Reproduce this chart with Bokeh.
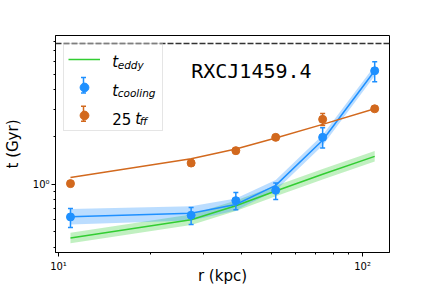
from bokeh.plotting import figure
from bokeh.models import (ColumnDataSource, Whisker, TeeHead, FixedTicker, Label,
                          Span, Legend, LegendItem)
from bokeh.embed import file_html
from bokeh.resources import INLINE

# ---- data ----
r = [10.95, 27.3, 38.3, 51.8, 73.9, 109.6]

t_cool = [0.621, 0.637, 0.788, 0.916, 1.984, 5.24]
t_cool_lo = [0.532, 0.556, 0.691, 0.800, 1.697, 4.467]
t_cool_hi = [0.702, 0.712, 0.886, 1.019, 2.285, 5.98]

t_cool_model = [0.623, 0.655, 0.745, 0.985, 1.90, 5.24]
t_cool_model_lo = [0.556, 0.590, 0.683, 0.912, 1.759, 4.874]
t_cool_model_hi = [0.698, 0.727, 0.812, 1.064, 2.052, 5.633]

t_ff = [1.01, 1.364, 1.634, 1.984, 2.58, 3.01]
t_ff_lo = [0.97, 1.31, 1.57, 1.91, 2.362, 2.90]
t_ff_hi = [1.05, 1.42, 1.70, 2.06, 2.815, 3.12]
t_ff_model = [1.103, 1.454, 1.673, 1.963, 2.398, 3.014]

t_eddy = [0.457, 0.596, 0.731, 0.907, 1.157, 1.504]
t_eddy_lo = [0.423, 0.552, 0.677, 0.840, 1.071, 1.393]
t_eddy_hi = [0.494, 0.644, 0.789, 0.980, 1.250, 1.624]

t_hubble = 7.8
title_text = "RXCJ1459.4"
x_major = [10, 100]
x_minor = [20, 30, 40, 50, 60, 70, 80, 90]
y_major = [1]
y_minor = [0.4, 0.5, 0.6, 0.7, 0.8, 0.9, 2, 3, 4, 5, 6, 7, 8]

BLUE = "#1e90ff"
ORANGE = "#d2691e"
GREEN = "#32cd32"

p = figure(width=416, height=288, x_axis_type="log", y_axis_type="log",
           x_range=(9.776, 122.6), y_range=(0.3697, 8.77),
           output_backend="svg", toolbar_location=None,
           min_border_left=54, min_border_right=27, min_border_top=35, min_border_bottom=36)
p.grid.visible = False
p.outline_line_color = "black"
p.outline_line_width = 1
p.background_fill_color = "white"

src = ColumnDataSource(dict(r=r, tc=t_cool, tcl=t_cool_lo, tch=t_cool_hi,
                            tcm=t_cool_model, tcml=t_cool_model_lo, tcmh=t_cool_model_hi,
                            tf=t_ff, tfl=t_ff_lo, tfh=t_ff_hi, tfm=t_ff_model,
                            te=t_eddy, tel=t_eddy_lo, teh=t_eddy_hi))

# bands
p.varea(x="r", y1="tel", y2="teh", source=src, fill_color=GREEN, fill_alpha=0.3)
p.varea(x="r", y1="tcml", y2="tcmh", source=src, fill_color=BLUE, fill_alpha=0.3)

# model lines
green_line = p.line(x="r", y="te", source=src, line_color=GREEN, line_width=1.5)
p.line(x="r", y="tcm", source=src, line_color=BLUE, line_width=1.5)
p.line(x="r", y="tfm", source=src, line_color=ORANGE, line_width=1.5)

# hubble-time dashed line
p.add_layout(Span(location=t_hubble, dimension="width", line_color="#333333",
                  line_width=1.5, line_dash="6 2"))

# error bars
for lo, hi, col in (("tcl", "tch", BLUE), ("tfl", "tfh", ORANGE)):
    w = Whisker(source=src, base="r", lower=lo, upper=hi, dimension="height",
                line_color=col, line_width=1.5, level="glyph",
                lower_head=TeeHead(size=5, line_color=col, line_width=1.5),
                upper_head=TeeHead(size=5, line_color=col, line_width=1.5))
    p.add_layout(w)

blue_pts = p.scatter(x="r", y="tc", source=src, size=8, color=BLUE)
orange_pts = p.scatter(x="r", y="tf", source=src, size=8, color=ORANGE)

# axes
p.xaxis.ticker = FixedTicker(ticks=x_major, minor_ticks=x_minor)
p.yaxis.ticker = FixedTicker(ticks=y_major, minor_ticks=y_minor)
p.xaxis.major_label_overrides = {10: "10\u00b9", 100: "10\u00b2"}
p.yaxis.major_label_overrides = {1: "10\u2070"}
for ax in (p.xaxis, p.yaxis):
    ax.major_tick_out = 4
    ax.major_tick_in = 0
    ax.minor_tick_out = 2
    ax.minor_tick_in = 0
    ax.axis_line_color = "black"
    ax.major_tick_line_color = "black"
    ax.minor_tick_line_color = "black"
    ax.major_label_text_font = "DejaVu Sans"
    ax.major_label_text_font_size = "10px"
    ax.major_label_text_color = "black"
    ax.axis_label_text_font = "DejaVu Sans"
    ax.axis_label_text_font_size = "15px"
    ax.axis_label_text_font_style = "normal"
    ax.axis_label_text_color = "black"
p.xaxis.axis_label = "r (kpc)"
p.yaxis.axis_label = "t (Gyr)"
p.xaxis.major_label_standoff = 4
p.xaxis.axis_label_standoff = -8
p.yaxis.major_label_standoff = 2
p.yaxis.axis_label_standoff = 8

# legend (glyphs + frame); rich labels are added as Labels on top
legend = Legend(items=[LegendItem(label=" ", renderers=[green_line]),
                       LegendItem(label=" ", renderers=[blue_pts]),
                       LegendItem(label=" ", renderers=[orange_pts])],
                location="top_left", margin=8, padding=4, spacing=6,
                glyph_width=32, glyph_height=22, label_standoff=8, label_width=50,
                label_height=10, label_text_font_size="4px",
                border_line_color="#cccccc", border_line_width=1,
                background_fill_color="white", background_fill_alpha=0.0)
p.add_layout(legend)

leg_x = [28.0, 28.0]
leg_lo = [159.6, 131.3]
leg_hi = [175.0, 146.3]
for i, col in enumerate((BLUE, ORANGE)):
    s = ColumnDataSource(dict(x=[leg_x[i]], lo=[leg_lo[i]], hi=[leg_hi[i]]))
    p.add_layout(Whisker(source=s, base="x", lower="lo", upper="hi", dimension="height",
                         base_units="screen", lower_units="screen", upper_units="screen",
                         line_color=col, line_width=1.5, level="overlay",
                         lower_head=TeeHead(size=5, line_color=col, line_width=1.5),
                         upper_head=TeeHead(size=5, line_color=col, line_width=1.5)))

def txt(x, y, s, size, italic=True, font="DejaVu Sans"):
    p.add_layout(Label(x=x, y=y, x_units="screen", y_units="screen", text=s,
                       text_font=font, text_font_size=size,
                       text_font_style="italic" if italic else "normal",
                       text_color="black", text_baseline="alphabetic", level="overlay"))

txt(56.7, 190.3, "t", "15px")
txt(62.2, 187.8, "eddy", "10.5px")
txt(56.7, 161.8, "t", "15px")
txt(62.2, 159.8, "cooling", "10.5px")
txt(56.7, 133.8, "25", "15px", italic=False)
txt(79.7, 133.8, "t", "15px")
txt(84.2, 131.8, "ff", "10.5px")

txt(135.7, 181.6, title_text, "20px", italic=False, font="DejaVu Sans Mono")

open("out.html", "w").write(file_html(p, INLINE))
